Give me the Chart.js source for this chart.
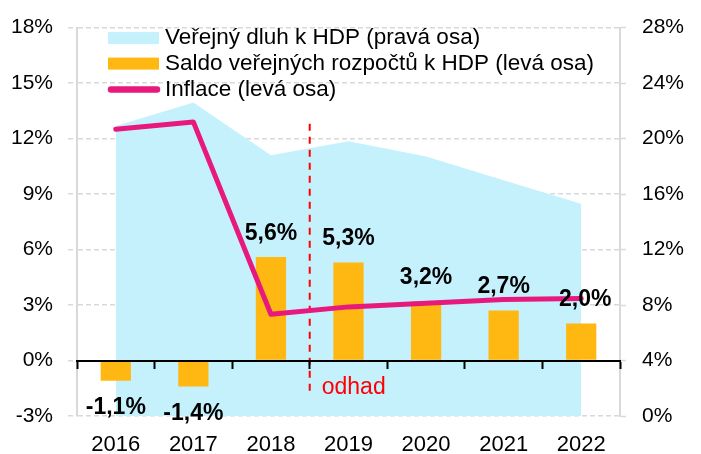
<!DOCTYPE html>
<html><head><meta charset="utf-8">
<script src="https://cdn.jsdelivr.net/npm/chart.js@4.4.0/dist/chart.umd.min.js"></script>
<style>html,body{margin:0;padding:0;background:#fff;overflow:hidden}</style>
</head><body>
<canvas id="c" width="701" height="454"></canvas>
<script>
// ---- data ----
const years = ['2016', '2017', '2018', '2019', '2020', '2021', '2022'];
const debtToGdp = [20.9, 22.6, 18.8, 19.8, 18.7, 17.0, 15.3];        // right axis
const budgetBalance = [-1.1, -1.4, 5.6, 5.3, 3.2, 2.7, 2.0];        // left axis
const inflation = [12.5, 12.9, 2.5, 2.9, 3.1, 3.3, 3.35];           // left axis
const seriesNames = ['Veřejný dluh k HDP (pravá osa)', 'Saldo veřejných rozpočtů k HDP (levá osa)', 'Inflace (levá osa)'];
const leftAxisRange = [-3, 18];
const leftAxisStep = 3;
const rightAxisRange = [0, 28];
const rightAxisStep = 4;
const forecastLabel = 'odhad';
const forecastStartIndex = 3;
const forecastLineRange = [-1.9, 12.8];
const forecastLabelLevel = -1.45;

// ---- styles ----
const FONT = '"Liberation Sans", Arial, sans-serif';
const C_AREA = '#C5F1FD';
const C_BAR = '#FFB812';
const C_LINE = '#E8197D';
const C_GRID = '#D9D9D9';
const C_RED = '#FF0000';

const fmt = v => v.toFixed(1).replace('.', ',') + '%';

const overlay = {
  id: 'overlay',
  afterDatasetDraw(chart, args) {
    if (args.index !== 0) return;
    const ctx = chart.ctx, xs = chart.scales.x, ys = chart.scales.y;
    const fx = (xs.getPixelForValue(forecastStartIndex - 1) + xs.getPixelForValue(forecastStartIndex)) / 2;
    ctx.save();
    ctx.strokeStyle = C_RED; ctx.lineWidth = 2; ctx.setLineDash([7, 6]);
    ctx.beginPath();
    ctx.moveTo(fx, ys.getPixelForValue(forecastLineRange[1]));
    ctx.lineTo(fx, ys.getPixelForValue(forecastLineRange[0]));
    ctx.stroke();
    ctx.setLineDash([]);
    ctx.fillStyle = C_RED; ctx.font = '23px ' + FONT;
    ctx.textBaseline = 'middle'; ctx.textAlign = 'left';
    ctx.fillText(forecastLabel, fx + 12, ys.getPixelForValue(forecastLabelLevel));
    ctx.restore();
  },
  afterDatasetsDraw(chart) {
    const ctx = chart.ctx, area = chart.chartArea;
    ctx.save();
    // data labels on bars
    const meta = chart.getDatasetMeta(1);
    ctx.font = 'bold 23px ' + FONT; ctx.fillStyle = '#000';
    ctx.textAlign = 'center'; ctx.textBaseline = 'middle';
    meta.data.forEach((el, i) => {
      const v = budgetBalance[i];
      const dx = i === meta.data.length - 1 ? 4 : 0;
      ctx.fillText(fmt(v), el.x + dx, v >= 0 ? el.y - 23.5 : el.y + 27);
    });
    // legend
    const bx = area.left + 31, bw = 51, tx = bx + 57;
    const rows = [area.top + 10.5, area.top + 36, area.top + 62];
    ctx.font = '22.5px ' + FONT; ctx.textAlign = 'left'; ctx.textBaseline = 'middle';
    ctx.fillStyle = C_AREA; ctx.fillRect(bx, rows[0] - 6, bw, 12);
    ctx.fillStyle = C_BAR; ctx.fillRect(bx, rows[1] - 6, bw, 12);
    ctx.strokeStyle = C_LINE; ctx.lineWidth = 6.5; ctx.lineCap = 'round';
    ctx.beginPath(); ctx.moveTo(bx + 3, rows[2]); ctx.lineTo(bx + bw - 2, rows[2]); ctx.stroke();
    ctx.fillStyle = '#000';
    chart.data.datasets.forEach((ds, i) => ctx.fillText(ds.label, tx, rows[i]));
    ctx.restore();
  }
};

new Chart(document.getElementById('c'), {
  data: {
    labels: years,
    datasets: [
      { type: 'line', label: seriesNames[0], data: debtToGdp, yAxisID: 'y1', xAxisID: 'x',
        backgroundColor: C_AREA, borderColor: 'transparent', borderWidth: 0, fill: 'start',
        pointRadius: 0, tension: 0, order: 3 },
      { type: 'bar', label: seriesNames[1], data: budgetBalance, yAxisID: 'y', xAxisID: 'x',
        backgroundColor: C_BAR, barPercentage: 0.39, categoryPercentage: 1, order: 2 },
      { type: 'line', label: seriesNames[2], data: inflation, yAxisID: 'y', xAxisID: 'x',
        borderColor: C_LINE, borderWidth: 5, pointRadius: 0, tension: 0, fill: false,
        borderJoinStyle: 'round', borderCapStyle: 'round', order: 1 }
    ]
  },
  options: {
    responsive: false, animation: false, devicePixelRatio: 1,
    layout: { padding: { top: 23, left: 0, right: 0, bottom: 0 } },
    plugins: { legend: { display: false }, tooltip: { enabled: false } },
    scales: {
      x: {
        type: 'category', position: 'bottom', offset: true,
        grid: { display: false }, border: { display: false },
        ticks: { color: '#000', font: { family: FONT, size: 22 }, padding: 8, maxRotation: 0 },
        afterFit: s => { s.height = 38; }
      },
      x0: {
        type: 'category', axis: 'x', position: { y: 0 }, offset: true,
        grid: { offset: true, drawOnChartArea: false, drawTicks: true, tickLength: 7, tickColor: '#000', tickWidth: 2, z: 1 },
        border: { display: true, color: '#000', width: 2, z: 1 },
        ticks: { display: false },
        z: 1
      },
      y: {
        type: 'linear', position: 'left', min: leftAxisRange[0], max: leftAxisRange[1],
        ticks: { stepSize: leftAxisStep, callback: v => v + '%', color: '#000', font: { family: FONT, size: 21 }, padding: 15 },
        grid: { color: C_GRID, lineWidth: 1.5, tickLength: 9, tickColor: C_GRID, tickWidth: 1.5, tickBorderDash: [5, 3] },
        border: { display: true, color: C_GRID, width: 2, dash: [5, 3] },
        afterFit: s => { s.width = 77; }
      },
      y1: {
        type: 'linear', position: 'right', min: rightAxisRange[0], max: rightAxisRange[1],
        ticks: { stepSize: rightAxisStep, callback: v => v + '%', color: '#000', font: { family: FONT, size: 21 }, padding: 15 },
        grid: { drawOnChartArea: false, tickLength: 7, tickColor: C_GRID, tickWidth: 1.5, tickBorderDash: [5, 3] },
        border: { display: true, color: C_GRID, width: 2 },
        afterFit: s => { s.width = 81; }
      }
    }
  },
  plugins: [overlay]
});
</script>
</body></html>
